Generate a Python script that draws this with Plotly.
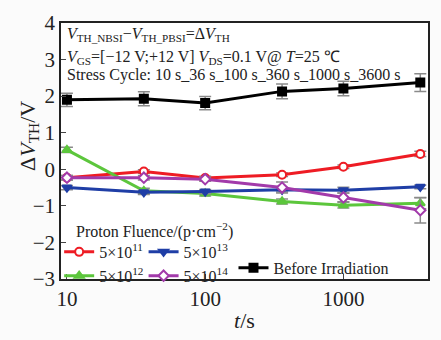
import plotly.graph_objects as go

t = [10, 36, 100, 360, 1000, 3600]
before = [1.90, 1.93, 1.81, 2.13, 2.21, 2.37]
before_err = [0.18, 0.19, 0.18, 0.20, 0.20, 0.24]
f11 = [-0.23, -0.06, -0.24, -0.15, 0.07, 0.42]
f11_err = [0.06, 0.05, 0.05, 0.05, 0.05, 0.07]
f12 = [0.53, -0.59, -0.66, -0.88, -0.98, -0.93]
f12_err = [0.07, 0.07, 0.07, 0.07, 0.08, 0.15]
f13 = [-0.50, -0.63, -0.61, -0.56, -0.57, -0.48]
f13_err = [0.06, 0.06, 0.06, 0.06, 0.08, 0.05]
f14 = [-0.23, -0.23, -0.27, -0.50, -0.77, -1.12]
f14_err = [0.06, 0.06, 0.06, 0.15, 0.12, 0.35]

FONT = "Liberation Serif"
fig = go.Figure()

def add(y, err, name, color, symbol, legend, fill=True):
    fig.add_trace(go.Scatter(
        x=t, y=y, name=name, mode="lines+markers", legend=legend,
        line=dict(color=color, width=3),
        marker=dict(symbol=symbol, size=8, color=color if fill else "white",
                    line=dict(color=color, width=2)),
        error_y=dict(type="data", array=err, color="#8a8a8a", thickness=1.5, width=6),
    ))

add(f11, f11_err, "5×10<sup>11</sup>", "#ee1c24", "circle", "legend", fill=False)
add(f12, f12_err, "5×10<sup>12</sup>", "#5cc63c", "triangle-up", "legend")
add(f13, f13_err, "5×10<sup>13</sup>", "#1f3ea6", "triangle-down", "legend2")
add(f14, f14_err, "5×10<sup>14</sup>", "#a23aaa", "diamond", "legend2", fill=False)
add(before, before_err, "Before Irradiation", "#000000", "square", "legend3")

leg_common = dict(bgcolor="rgba(0,0,0,0)", font=dict(family=FONT, size=16, color="#222"),
                  orientation="v", xanchor="left", yanchor="top", itemwidth=30,
                  tracegroupgap=0, traceorder="normal")

fig.update_layout(
    width=441, height=340,
    paper_bgcolor="#fbfbfb", plot_bgcolor="white",
    margin=dict(l=61, r=11, t=15, b=48),
    font=dict(family=FONT, color="#222"),
    showlegend=True,
    legend=dict(x=-0.005, y=0.172, **leg_common),
    legend2=dict(x=0.225, y=0.172, **leg_common),
    legend3=dict(x=0.47, y=0.11, **leg_common),
    xaxis=dict(type="log", range=[0.957, 3.612], tickvals=[10, 100, 1000],
               ticktext=["10", "100", "1000"], ticks="inside", ticklen=5,
               showline=True, linecolor="#222", linewidth=1.5, mirror=True,
               showgrid=False, zeroline=False,
               tickfont=dict(family=FONT, size=21),
               title=dict(text="<i>t</i>/s", font=dict(family=FONT, size=22), standoff=3)),
    yaxis=dict(range=[-3, 4], tickvals=[-3, -2, -1, 0, 1, 2, 3, 4],
               ticktext=["−3", "−2", "−1", "0", "1", "2", "3", "4"],
               ticks="inside", ticklen=5,
               showline=True, linecolor="#222", linewidth=1.5, mirror=True,
               showgrid=False, zeroline=False,
               tickfont=dict(family=FONT, size=21)),
)

fig.add_annotation(xref="paper", yref="paper", x=-0.089, y=0.56, textangle=-90,
                   xanchor="center", yanchor="middle", showarrow=False,
                   text="Δ<i>V</i><sub>TH</sub>/V", font=dict(family=FONT, size=22, color="#222"))

ann = dict(xref="paper", yref="paper", xanchor="left", yanchor="middle", showarrow=False,
           font=dict(family=FONT, size=16, color="#222"))
fig.add_annotation(x=0.01, y=0.955, text="<i>V</i><sub>TH_NBSI</sub>−<i>V</i><sub>TH_PBSI</sub>=Δ<i>V</i><sub>TH</sub>", **ann)
fig.add_annotation(x=0.01, y=0.865, text="<i>V</i><sub>GS</sub>=[−12 V;+12 V] <i>V</i><sub>DS</sub>=0.1 V@ <i>T</i>=25 ℃", **ann)
fig.add_annotation(x=0.01, y=0.795, text="Stress Cycle: 10 s_36 s_100 s_360 s_1000 s_3600 s", **ann)
fig.add_annotation(x=0.035, y=0.19, text="Proton Fluence/(p·cm<sup>−2</sup>)", **ann)

fig.write_html("out.html")
